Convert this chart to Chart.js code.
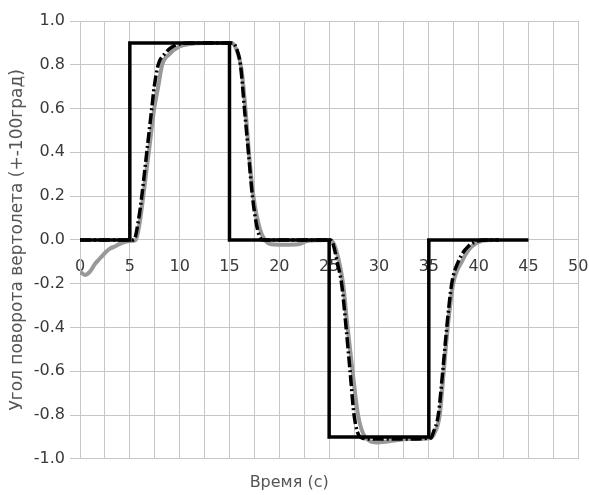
<!DOCTYPE html>
<html>
<head>
<meta charset="utf-8">
<script src="https://cdn.jsdelivr.net/npm/chart.js@4/dist/chart.umd.min.js"></script>
<style>
  body { margin: 0; background: #fff; }
  canvas { display: block; }
</style>
</head>
<body>
<canvas id="heliChart" width="589" height="495"></canvas>
<script>
// Входной сигнал (ступеньки)
const stepX = [0, 5, 5, 15, 15, 25, 25, 35, 35, 45];
const stepY = [0, 0, 0.9, 0.9, 0, 0, -0.9, -0.9, 0, 0];

// Модель (штрихпунктир)
const modelX = [0, 5.4, 5.9, 6.2, 6.7, 7.2, 7.45, 7.85, 8.5, 9.2, 10, 11, 12, 15.3, 15.7, 16.1, 16.5, 16.9, 17.3, 17.8, 18.3, 19,
  25.1, 25.4, 25.8, 26.25, 26.7, 27.1, 27.5, 28.1, 29, 32, 35.2, 35.45, 35.95, 36.4, 36.8, 37.3, 37.95, 38.95, 40.8, 42];
const modelY = [0, 0, 0.1, 0.2, 0.4, 0.6, 0.7, 0.8, 0.85, 0.88, 0.895, 0.9, 0.9, 0.9, 0.875, 0.8, 0.6, 0.4, 0.2, 0.05, 0, 0,
  0, -0.02, -0.1, -0.2, -0.4, -0.6, -0.8, -0.9, -0.91, -0.91, -0.905, -0.88, -0.8, -0.6, -0.4, -0.2, -0.1, -0.03, 0, 0];

// Реальный вертолет (серая линия)
const realX = [0, 0.5, 1, 1.5, 2, 2.5, 3, 3.5, 4, 4.5, 5, 5.6, 6.0, 6.35, 6.9, 7.45, 7.85, 8.25, 9, 9.85, 11, 12.5,
  15.2, 15.7, 16.2, 16.6, 16.95, 17.4, 18.05, 18.55, 19.2, 20.5, 21.9, 22.8,
  25.1, 25.5, 26, 26.4, 26.85, 27.35, 27.9, 28.6, 29.75, 31, 33, 35.2, 35.6, 36.1, 36.5, 36.9, 37.45, 38.3, 39.3, 41.4, 42];
const realY = [-0.145, -0.16, -0.145, -0.11, -0.085, -0.06, -0.04, -0.03, -0.018, -0.01, -0.005, 0, 0.08, 0.2, 0.4, 0.6, 0.7, 0.8, 0.85, 0.88, 0.895, 0.9,
  0.9, 0.87, 0.78, 0.6, 0.4, 0.2, 0.05, 0, -0.02, -0.022, -0.02, -0.005,
  0, -0.02, -0.1, -0.2, -0.4, -0.6, -0.8, -0.9, -0.925, -0.92, -0.91, -0.905, -0.88, -0.8, -0.6, -0.4, -0.2, -0.1, -0.03, 0, 0];

const xTitle = "Время (с)";
const yTitle = "Угол поворота вертолета (+-100град)";

const toPoints = (xs, ys) => xs.map((x, i) => ({ x, y: ys[i] }));

const gridColor = "#c6c6c6";
const tickColor = "#3a3a3a";
const font = { family: "DejaVu Sans", size: 16 };

// x-оси не должны сдвигать область графика из-за подписей
const noSidePadding = (scale) => {
  scale.paddingLeft = 0;
  scale.paddingRight = 0;
};

new Chart(document.getElementById("heliChart"), {
  type: "line",
  data: {
    datasets: [
      {
        data: toPoints(stepX, stepY),
        borderColor: "#000",
        borderWidth: 3.5,
        tension: 0,
        pointRadius: 0,
      },
      {
        data: toPoints(modelX, modelY),
        borderColor: "#000",
        borderWidth: 3.5,
        borderDash: [11, 3, 2, 3],
        cubicInterpolationMode: "monotone",
        pointRadius: 0,
      },
      {
        data: toPoints(realX, realY),
        borderColor: "#999",
        borderWidth: 4,
        cubicInterpolationMode: "monotone",
        pointRadius: 0,
      },
    ],
  },
  options: {
    responsive: false,
    animation: false,
    layout: { padding: { top: 21, right: 10.7, left: 0, bottom: 0 } },
    plugins: {
      legend: { display: false },
      tooltip: { enabled: false },
      title: {
        display: true,
        position: "bottom",
        text: xTitle,
        color: "#555",
        font: { family: "DejaVu Sans", size: 16, weight: "normal" },
        padding: { top: 14, bottom: 3 },
      },
    },
    scales: {
      x: {
        type: "linear",
        position: "bottom",
        min: 0,
        max: 50,
        ticks: { stepSize: 2.5, display: false },
        grid: { color: gridColor, drawTicks: false },
        border: { color: gridColor },
        afterFit: (scale) => { scale.height = 0; noSidePadding(scale); },
      },
      x2: {
        type: "linear",
        position: { y: 0 },
        min: 0,
        max: 50,
        ticks: { stepSize: 5, color: tickColor, font, padding: 17 },
        grid: { display: false, drawTicks: false },
        border: { display: false },
        afterFit: noSidePadding,
      },
      y: {
        min: -1,
        max: 1,
        ticks: {
          stepSize: 0.2,
          color: tickColor,
          font,
          padding: 5,
          callback: (v) => v.toFixed(1),
        },
        grid: { color: gridColor, tickLength: 10 },
        border: { color: gridColor },
        title: {
          display: true,
          text: yTitle,
          color: "#555",
          font: { family: "DejaVu Sans", size: 17 },
          padding: { top: 7.5, bottom: 0 },
        },
        afterFit: (scale) => { scale.width = 80; },
      },
    },
  },
});
</script>
</body>
</html>
